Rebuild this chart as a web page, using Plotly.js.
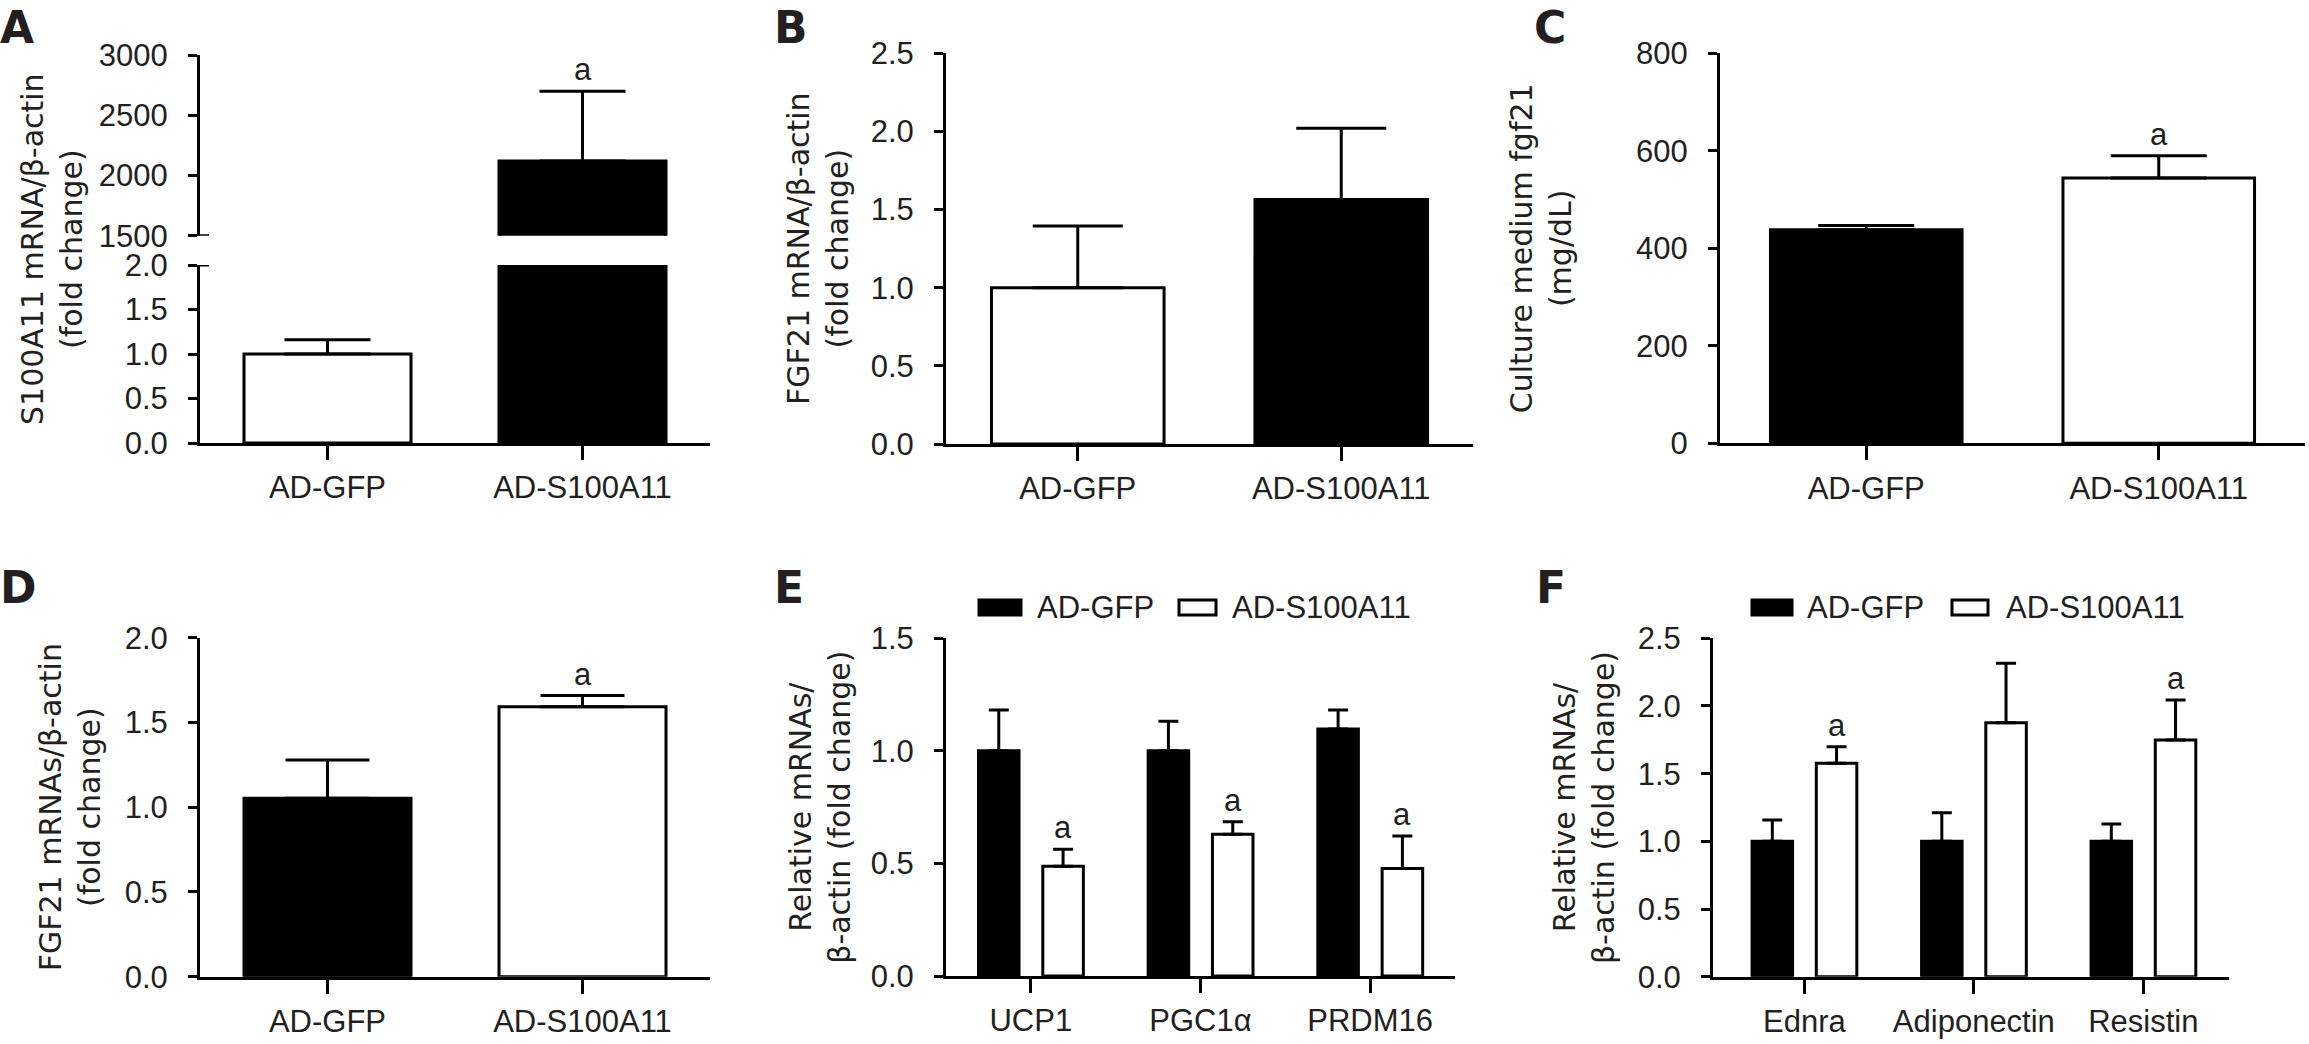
<!DOCTYPE html>
<html>
<head>
<meta charset="utf-8">
<script src="https://cdn.plot.ly/plotly-3.0.1.min.js"></script>
<style>
html,body{margin:0;padding:0;background:#ffffff;}
#chart{width:2309px;height:1044px;}
</style>
</head>
<body>
<div id="chart"></div>
<script>
// ---------------- data ----------------
const seriesNames = ['AD-GFP', 'AD-S100A11'];
const catsAD = ['AD-GFP', 'AD-S100A11'];

const aMean = [1.0, 2120];
const aErr  = [0.16, 580];
const aSig  = ['', 'a'];

const bMean = [1.0, 1.565];
const bErr  = [0.395, 0.455];
const bSig  = ['', ''];

const cMean = [438, 544];
const cErr  = [9, 46];
const cSig  = ['', 'a'];

const dMean = [1.053, 1.592];
const dErr  = [0.226, 0.067];
const dSig  = ['', 'a'];

const eCats    = ['UCP1', 'PGC1α', 'PRDM16'];
const eGFP     = [1.0, 1.0, 1.097];
const eGFPErr  = [0.181, 0.132, 0.084];
const eS100    = [0.488, 0.630, 0.478];
const eS100Err = [0.075, 0.055, 0.144];
const eSig     = ['a', 'a', 'a'];

const fCats    = ['Ednra', 'Adiponectin', 'Resistin'];
const fGFP     = [1.0, 1.0, 1.0];
const fGFPErr  = [0.157, 0.211, 0.128];
const fS100    = [1.576, 1.876, 1.748];
const fS100Err = [0.123, 0.439, 0.296];
const fSig     = ['a', '', 'a'];

const aTicksUpper = [1500, 2000, 2500, 3000];
const aTicksLower = [0, 0.5, 1.0, 1.5, 2.0];
const bTicks = [0, 0.5, 1.0, 1.5, 2.0, 2.5];
const cTicks = [0, 200, 400, 600, 800];
const dTicks = [0, 0.5, 1.0, 1.5, 2.0];
const eTicks = [0, 0.5, 1.0, 1.5];
const fTicks = [0, 0.5, 1.0, 1.5, 2.0, 2.5];

const titleA = 'S100A11 mRNA/β-actin<br>(fold change)';
const titleB = 'FGF21 mRNA/β-actin<br>(fold change)';
const titleC = 'Culture medium fgf21<br>(mg/dL)';
const titleD = 'FGF21 mRNAs/β-actin<br>(fold change)';
const titleEF = 'Relative mRNAs/<br>β-actin (fold change)';

// ---------------- styling helpers ----------------
const W = 2309, H = 1044;
const px = v => v / W;
const py = v => 1 - v / H;
const INK = '#231f20';
const TICKFONT = {family: 'Liberation Sans, Arial, sans-serif', size: 31, color: INK};
const TITLEFONT = {family: 'DejaVu Sans, Verdana, sans-serif', size: 30, color: INK};
const zeros = n => new Array(n).fill(0);

function yax(top, bot, range, tickvals, fmt, anchor, title, standoff) {
  const o = {
    domain: [py(bot), py(top)], range: range, anchor: anchor,
    tickmode: 'array', tickvals: tickvals, tickformat: fmt,
    showline: true, linecolor: '#000', linewidth: 3,
    ticks: 'outside', ticklen: 9, tickwidth: 3, tickcolor: '#000',
    ticklabelstandoff: 14, tickfont: TICKFONT,
    showgrid: false, zeroline: false, fixedrange: true
  };
  if (title) o.title = {text: title, font: TITLEFONT, standoff: standoff};
  return o;
}
function xax(left, right, range, anchor) {
  return {
    domain: [px(left), px(right)], range: range, anchor: anchor, type: 'category',
    showline: true, linecolor: '#000', linewidth: 3,
    ticks: 'outside', ticklen: 14, tickwidth: 3, tickcolor: '#000',
    ticklabelstandoff: 1, tickfont: TICKFONT,
    showgrid: false, zeroline: false, fixedrange: true
  };
}
function errs(arr) {
  return {type: 'data', symmetric: false, array: arr, arrayminus: zeros(arr.length),
          color: '#000', thickness: 3};
}
function pairBar(cats, mean, err, colors, xa, ya, capw) {
  const e = errs(err); e.width = capw;
  return {type: 'bar', x: cats, y: mean, xaxis: xa, yaxis: ya, width: 0.655,
          marker: {color: colors, line: {color: '#000', width: 3}},
          error_y: e, showlegend: false, hoverinfo: 'skip'};
}
const BW = 0.239;                       // grouped bar width (category units)
const OFF_G = -0.189, OFF_S = 0.19;     // centre offsets of the two series
function groupBar(cats, mean, err, color, name, xa, ya, centreOff) {
  const e = errs(err); e.width = 10;
  return {type: 'bar', name: name, x: cats, y: mean, xaxis: xa, yaxis: ya,
          width: BW, offset: centreOff - BW / 2,
          marker: {color: color, line: {color: '#000', width: 3}},
          error_y: e, showlegend: false, hoverinfo: 'skip'};
}

// ---------------- traces ----------------
const traces = [
  pairBar(catsAD, aMean, aErr, ['#fff', '#000'], 'x', 'y', 43),
  pairBar(catsAD, aMean, aErr, ['#fff', '#000'], 'x', 'y2', 43),
  pairBar(catsAD, bMean, bErr, ['#fff', '#000'], 'x2', 'y4', 45),
  pairBar(catsAD, cMean, cErr, ['#000', '#fff'], 'x3', 'y5', 48),
  pairBar(catsAD, dMean, dErr, ['#000', '#fff'], 'x4', 'y6', 42),
  groupBar(eCats, eGFP, eGFPErr, '#000', seriesNames[0], 'x5', 'y7', OFF_G),
  groupBar(eCats, eS100, eS100Err, '#fff', seriesNames[1], 'x5', 'y7', OFF_S),
  groupBar(fCats, fGFP, fGFPErr, '#000', seriesNames[0], 'x6', 'y8', OFF_G),
  groupBar(fCats, fS100, fS100Err, '#fff', seriesNames[1], 'x6', 'y8', OFF_S)
];

// ---------------- annotations ----------------
const annotations = [];
function sig(list, mean, err, xref, yref, off) {
  list.forEach((s, i) => {
    if (!s) return;
    annotations.push({xref: xref, yref: yref, x: i + off, y: mean[i] + err[i],
      text: s, showarrow: false, yanchor: 'bottom', xanchor: 'center', yshift: 2,
      font: TICKFONT});
  });
}
sig(aSig, aMean, aErr, 'x', 'y2', 0);
sig(bSig, bMean, bErr, 'x2', 'y4', 0);
sig(cSig, cMean, cErr, 'x3', 'y5', 0);
sig(dSig, dMean, dErr, 'x4', 'y6', 0);
sig(eSig, eS100, eS100Err, 'x5', 'y7', OFF_S);
sig(fSig, fS100, fS100Err, 'x6', 'y8', OFF_S);

// axis title of the broken-axis panel A (spans both halves)
annotations.push({xref: 'paper', yref: 'paper', x: px(52), y: py(249),
  xanchor: 'center', yanchor: 'middle', textangle: -90, text: titleA,
  showarrow: false, font: TITLEFONT});

const LETTERFONT = {family: 'DejaVu Sans, Verdana, sans-serif', size: 44, color: INK};
// top row letters hang from the top edge, bottom row letters centred on their line
[['A', -2], ['B', 772], ['C', 1532]].forEach(p => annotations.push({
  xref: 'paper', yref: 'paper', x: px(p[1]), y: 1, xanchor: 'left', yanchor: 'top',
  text: '<b>' + p[0] + '</b>', showarrow: false, font: LETTERFONT}));
[['D', -2], ['E', 772], ['F', 1534]].forEach(p => annotations.push({
  xref: 'paper', yref: 'paper', x: px(p[1]), y: py(587), xanchor: 'left', yanchor: 'middle',
  text: '<b>' + p[0] + '</b>', showarrow: false, font: LETTERFONT}));

// legend keys for E and F (drawn as shapes + labels)
const shapes = [];
function legendRow(keys) {
  keys.forEach(k => {
    shapes.push({type: 'rect', xref: 'paper', yref: 'paper',
      x0: px(k.x0), x1: px(k.x1), y0: py(615), y1: py(600),
      fillcolor: k.fill, line: {color: '#000', width: 3}});
    annotations.push({xref: 'paper', yref: 'paper', x: px(k.tx), y: py(607),
      xanchor: 'left', yanchor: 'middle', text: k.name, showarrow: false, font: TICKFONT});
  });
}
legendRow([{x0: 979, x1: 1021, fill: '#000', tx: 1035, name: seriesNames[0]},
           {x0: 1179, x1: 1216, fill: '#fff', tx: 1230, name: seriesNames[1]}]);
legendRow([{x0: 1752, x1: 1792, fill: '#000', tx: 1805, name: seriesNames[0]},
           {x0: 1952, x1: 1988, fill: '#fff', tx: 2004, name: seriesNames[1]}]);

// axis-break marks: the ticks on either side of the break cross the axis line
shapes.push({type: 'line', xref: 'paper', yref: 'y2', x0: px(200), x1: px(209),
  y0: aTicksUpper[0], y1: aTicksUpper[0], line: {color: '#000', width: 3}});
shapes.push({type: 'line', xref: 'paper', yref: 'y', x0: px(200), x1: px(209),
  y0: aTicksLower[aTicksLower.length - 1], y1: aTicksLower[aTicksLower.length - 1],
  line: {color: '#000', width: 3}});

// ---------------- layout ----------------
const layout = {
  width: W, height: H, margin: {l: 0, r: 0, t: 0, b: 0},
  paper_bgcolor: '#fff', plot_bgcolor: 'rgba(0,0,0,0)',
  font: TICKFONT, barmode: 'overlay', showlegend: false,
  xaxis:  xax(200, 710, [-0.5, 1.5], 'y'),
  yaxis:  yax(265, 443, [0, 2], aTicksLower, '.1f', 'x'),
  yaxis2: yax(55, 235.7, [1500, 3000], aTicksUpper, 'd', 'x'),
  xaxis2: xax(946, 1473, [-0.5, 1.5], 'y4'),
  yaxis4: yax(53.3, 444, [0, 2.5], bTicks, '.1f', 'x2', titleB, 14),
  xaxis3: xax(1720, 2305, [-0.5, 1.5], 'y5'),
  yaxis5: yax(53.3, 443.3, [0, 800], cTicks, 'd', 'x3', titleC, 56),
  xaxis4: xax(200, 710, [-0.5, 1.5], 'y6'),
  yaxis6: yax(637.7, 976.7, [0, 2], dTicks, '.1f', 'x4', titleD, 16),
  xaxis5: xax(946, 1455, [-0.5, 2.5], 'y7'),
  yaxis7: yax(638.3, 976, [0, 1.5], eTicks, '.1f', 'x5', titleEF, 12),
  xaxis6: xax(1713, 2228.6, [-0.539, 2.503], 'y8'),
  yaxis8: yax(638.3, 976.7, [0, 2.5], fTicks, '.1f', 'x6', titleEF, 15),
  annotations: annotations, shapes: shapes
};

Plotly.newPlot('chart', traces, layout, {staticPlot: true, displayModeBar: false});
</script>
</body>
</html>
